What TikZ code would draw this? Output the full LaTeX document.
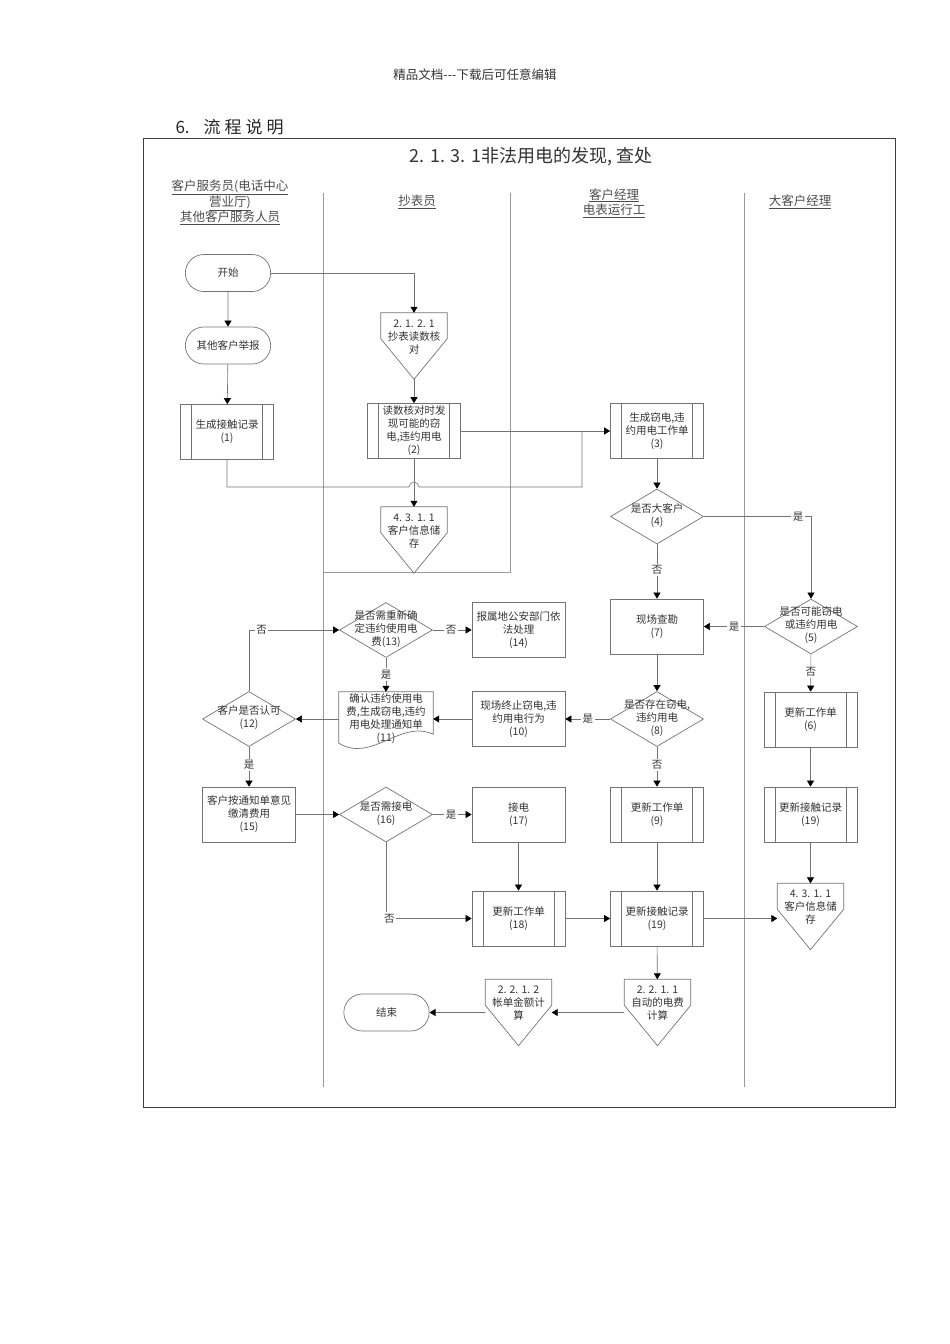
\documentclass[tikz,border=0pt]{standalone}
\usepackage{fontspec}
\setmainfont{Noto Sans CJK SC}
\usetikzlibrary{shapes.geometric, shapes.misc, arrows.meta, positioning, calc}

\newcommand{\nodefont}{\fontsize{10.5}{13}\selectfont}
\newcommand{\hdrfont}{\fontsize{12.5}{15.5}\selectfont}
% centred text of zero size (for diamonds and off-page shapes)
\newcommand{\mtxt}[2][-2.5pt]{\raisebox{#1}[0pt][0pt]{\makebox[0pt]{\begin{tabular}{@{}c@{}}#2\end{tabular}}}}
% outline of an off-page reference
\newcommand{\offpg}[1]{\draw[shp] (#1.north west) -- (#1.north east) -- ([yshift=-26pt]#1.north east)
  -- (#1.south) -- ([yshift=-26pt]#1.north west) -- cycle;}
% outline of a document
\newcommand{\docpg}[1]{\draw[shp] (#1.north west) -- (#1.north east) -- ([yshift=12pt]#1.south east)
  .. controls ([xshift=-33pt,yshift=27pt]#1.south east) and ([xshift=33pt,yshift=-17pt]#1.south west)
  .. ([yshift=3pt]#1.south west) -- cycle;}

\tikzset{
  shp/.style={draw=black!55, line width=0.7pt},
  term/.style={rounded rectangle, shp, minimum width=92pt, minimum height=37pt,
               font=\nodefont, text=black!80},
  proc/.style={rectangle, shp, minimum width=93pt, minimum height=55pt, inner sep=1pt,
               align=center, font=\nodefont, text=black!80},
  subproc/.style={proc, path picture={
      \draw[black!55, line width=0.7pt]
        ([xshift=11pt]path picture bounding box.north west) -- ([xshift=11pt]path picture bounding box.south west)
        ([xshift=-11pt]path picture bounding box.north east) -- ([xshift=-11pt]path picture bounding box.south east);}},
  dec/.style={diamond, shp, minimum width=93pt, minimum height=55pt, inner sep=0pt,
              font=\nodefont, text=black!80},
  offpage/.style={rectangle, minimum width=66pt, minimum height=66pt, inner sep=0pt,
                  font=\nodefont, text=black!80},
  docu/.style={rectangle, minimum width=94pt, minimum height=54pt, inner sep=1pt,
               align=center, font=\nodefont, text=black!80},
  conn/.style={draw=black!55, line width=0.6pt},
  arr/.style={conn, -{Triangle[length=6pt, width=7pt, color=black]}},
  lbl/.style={fill=white, inner sep=1.5pt, font=\nodefont, text=black!80},
  lane/.style={draw=black!40, line width=0.6pt},
  hdr/.style={font=\hdrfont, text=black!70, align=center},
}

\begin{document}
\begin{tikzpicture}[x=1pt, y=-1pt]
  \useasboundingbox (0,0) rectangle (950,1344);

  % page head
  \node[font=\fontsize{12.5}{14}\selectfont, text=black!80] (pghd) at (475,75) {精品文档-{}-{}-下载后可任意编辑};
  \node[font=\fontsize{17}{20}\selectfont, text=black!85, anchor=west] (sect) at (172,127)
    {6.\hspace{14pt}流\hspace{4pt}程\hspace{4pt}说\hspace{4pt}明};

  % frame, title, lanes
  \draw[black!75, line width=1pt] (143,138) rectangle (895,1107);
  \node[font=\fontsize{18}{20}\selectfont, text=black!80] (ttl) at (531,157) {2. 1. 3. 1非法用电的发现, 查处};

  \node[hdr] (h1) at (230,202.5) {\underline{客户服务员(电话中心}\\\underline{营业厅)}\\\underline{其他客户服务人员}};
  \node[hdr] (h2) at (417,202) {\underline{抄表员}};
  \node[hdr] (h3) at (614,203) {\underline{客户经理}\\\underline{电表运行工}};
  \node[hdr] (h4) at (800,202) {\underline{大客户经理}};

  \draw[lane] (323,193) -- (323,1087);
  \draw[lane] (510,193) -- (510,572) -- (323,572);
  \draw[lane] (744,193) -- (744,1087);

  % steps
  \node[term] (start) at (228,273) {开始};
  \node[term] (rept) at (228,345.5) {其他客户举报};
  \node[subproc] (n1) at (227,432) {生成接触记录\\(1)};
  \node[offpage] (p2121) at (414,346) {\mtxt[5.5pt]{2. 1. 2. 1\\抄表读数核\\对}};
  \node[subproc] (n2) at (414,431) {读数核对时发\\现可能的窃\\电,违约用电\\(2)};
  \node[offpage] (p4311a) at (414,540) {\mtxt[5.5pt]{4. 3. 1. 1\\客户信息储\\存}};
  \node[subproc] (n3) at (657,431) {生成窃电,违\\约用电工作单\\(3)};
  \node[dec] (n4) at (657,516.5) {\mtxt{是否大客户\\(4)}};
  \node[proc] (n7) at (657,626.5) {现场查勘\\(7)};
  \node[dec] (n5) at (811,626.5) {\mtxt{是否可能窃电\\或违约用电\\(5)}};
  \node[subproc] (n6) at (810.5,719.5) {更新工作单\\(6)};
  \node[subproc] (n19r) at (810.5,814.5) {更新接触记录\\(19)};
  \node[offpage] (p4311b) at (810.5,916.5) {\mtxt[5.5pt]{4. 3. 1. 1\\客户信息储\\存}};
  \node[dec] (n8) at (657,719) {\mtxt{是否存在窃电,\\违约用电\\(8)}};
  \node[proc] (n10) at (518.5,719) {现场终止窃电,违\\约用电行为\\(10)};
  \node[docu] (n11) at (386,719) {确认违约使用电\\费,生成窃电,违约\\用电处理通知单\\(11)};
  \node[dec] (n13) at (386,630) {\mtxt{是否需重新确\\定违约使用电\\费(13)}};
  \node[proc] (n14) at (518.5,630) {报属地公安部门依\\法处理\\(14)};
  \node[dec] (n12) at (249,719) {\mtxt{客户是否认可\\(12)}};
  \node[proc] (n15) at (249,814.5) {客户按通知单意见\\缴清费用\\(15)};
  \node[dec] (n16) at (386,814.5) {\mtxt{是否需接电\\(16)}};
  \node[proc] (n17) at (518.5,814.5) {接电\\(17)};
  \node[subproc] (n9) at (657,814.5) {更新工作单\\(9)};
  \node[subproc] (n18) at (518.5,918.5) {更新工作单\\(18)};
  \node[subproc] (n19m) at (657,918.5) {更新接触记录\\(19)};
  \node[offpage] (p2211) at (657.5,1012.5) {\mtxt[5.5pt]{2. 2. 1. 1\\自动的电费\\计算}};
  \node[offpage] (p2212) at (518.5,1012.5) {\mtxt[5.5pt]{2. 2. 1. 2\\帐单金额计\\算}};
  \node[term] (stop) at (386.5,1012.5) {结束};

  \offpg{p2121}
  \offpg{p4311a}
  \offpg{p4311b}
  \offpg{p2211}
  \offpg{p2212}
  \docpg{n11}

  % flow
  \coordinate (jn) at (582,431);
  \coordinate (hop) at (414,487);

  \draw[arr] (start) -- (rept);
  \draw[arr] (rept) -- (n1);
  \draw[arr] (start.east) -| (p2121.north);
  \draw[arr] (p2121.south) -- (n2.north);
  \draw[arr] (n2.south) -- (p4311a.north);
  \draw[arr] (n2) -- (n3);
  \draw[conn] (n1.south) |- ([xshift=-5pt]hop) arc[start angle=180, end angle=0, radius=5pt] -| (jn);
  \draw[arr] (n3) -- (n4);
  \draw[arr] (n4) -- node[lbl, pos=0.47]{否} (n7);
  \draw[arr] (n4.east) -| node[lbl, pos=0.44]{是} (n5.north);
  \draw[arr] (n5) -- node[lbl, pos=0.5]{是} (n7);
  \draw[arr] (n5) -- node[lbl, pos=0.47]{否} (n6);
  \draw[arr] (n6) -- (n19r);
  \draw[arr] (n19r) -- (p4311b);
  \draw[arr] (n7) -- (n8);
  \draw[arr] (n8) -- node[lbl, pos=0.5]{是} (n10);
  \draw[arr] (n8) -- node[lbl, pos=0.46]{否} (n9);
  \draw[arr] (n10) -- (n11);
  \draw[arr] (n11) -- (n12);
  \draw[arr] (n12.north) |- node[lbl, pos=0.57]{否} (n13.west);
  \draw[arr] (n13) -- node[lbl, pos=0.47]{否} (n14);
  \draw[arr] (n13) -- node[lbl, pos=0.49]{是} (n11);
  \draw[arr] (n12) -- node[lbl, pos=0.46]{是} (n15);
  \draw[arr] (n15) -- (n16);
  \draw[arr] (n16) -- node[lbl, pos=0.47]{是} (n17);
  \draw[arr] (n16.south) |- node[lbl, pos=0.52]{否} (n18.west);
  \draw[arr] (n17) -- (n18);
  \draw[arr] (n18) -- (n19m);
  \draw[arr] (n9) -- (n19m);
  \draw[arr] (n19m.east) -- (n19m.east -| p4311b.west);
  \draw[arr] (n19m) -- (p2211);
  \draw[arr] (p2211) -- (p2212);
  \draw[arr] (p2212) -- (stop);
\end{tikzpicture}
\end{document}
